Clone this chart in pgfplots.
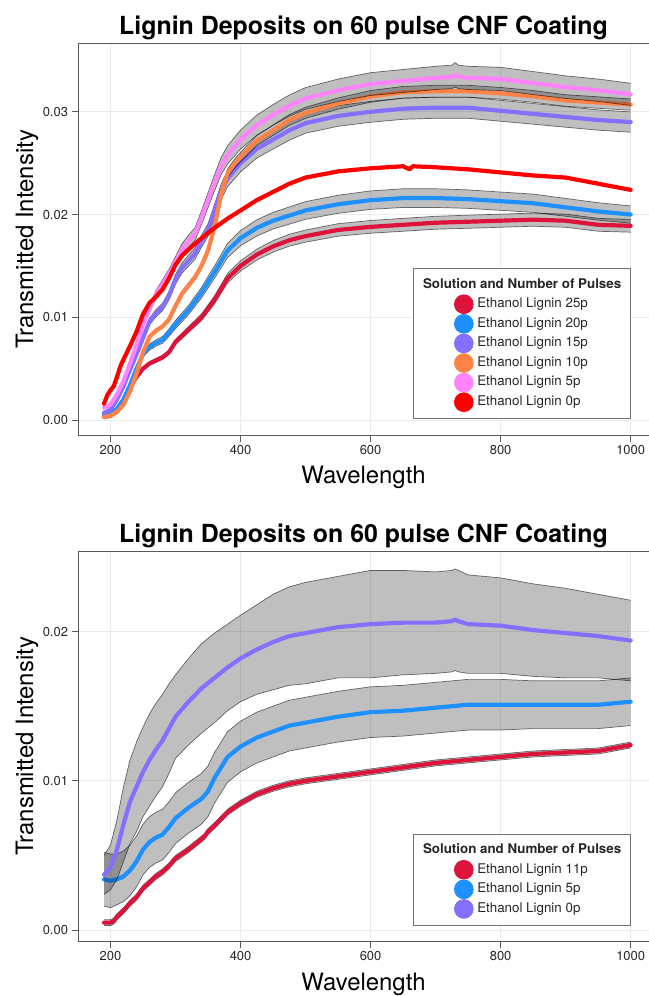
\documentclass[border=0pt]{standalone}
\usepackage{pgfplots}
\pgfplotsset{compat=1.18}
\usepackage{pgfplotstable}
\usepgfplotslibrary{fillbetween}
\usepackage{fontspec}
\setmainfont{TeX Gyre Heros}

\definecolor{crim}{HTML}{DC143C}
\definecolor{dblue}{HTML}{1E90FF}
\definecolor{lslate}{HTML}{8470FF}
\definecolor{coralc}{HTML}{FF8247}
\definecolor{pinkv}{HTML}{FF83FA}
\definecolor{redd}{HTML}{FF0000}
\definecolor{gridc}{HTML}{EBEBEB}

% top panel: x = wavelength, y = mean, e = std
\pgfplotstableread{
x y e
190 .0003 .00001
200 .0004 .00001
210 .0009 .00003
220 .0020 .00007
230 .0032 .00011
240 .0042 .00014
250 .0050 .00017
260 .0055 .00018
270 .0058 .00019
280 .0061 .00020
290 .0066 .00022
300 .0076 .00025
320 .0088 .00029
340 .0100 .00033
360 .0117 .00039
380 .0138 .00046
400 .0150 .00050
425 .0161 .00053
450 .0169 .00056
475 .0175 .00058
500 .0179 .00059
550 .0185 .00061
600 .0188 .00062
650 .0190 .00063
700 .0192 .00063
750 .0193 .00064
800 .0194 .00064
850 .0195 .00064
900 .0194 .00064
950 .0190 .00063
1000 .0189 .00062
}\tA
\pgfplotstableread{
x y e
190 .0005 .00002
200 .0006 .00003
210 .0011 .00005
220 .0020 .00008
230 .0034 .00014
240 .0050 .00021
250 .0064 .00027
260 .0071 .00030
270 .0075 .00032
280 .0078 .00033
290 .0085 .00036
300 .0093 .00039
320 .0107 .00045
340 .0124 .00052
360 .0144 .00060
380 .0165 .00069
400 .0177 .00074
425 .0187 .00079
450 .0194 .00081
475 .0199 .00084
500 .0204 .00086
550 .0210 .00088
600 .0214 .00090
650 .0216 .00091
700 .0216 .00091
750 .0215 .00090
800 .0213 .00089
850 .0211 .00089
900 .0207 .00087
950 .0203 .00085
1000 .0200 .00084
}\tB
\pgfplotstableread{
x y e
190 .0007 .00002
200 .0010 .00003
210 .0020 .00007
220 .0033 .00011
230 .0049 .00017
240 .0064 .00022
250 .0080 .00027
260 .0096 .00033
270 .0104 .00035
280 .0110 .00037
290 .0121 .00041
300 .0137 .00047
310 .0148 .00050
320 .0155 .00053
330 .0162 .00055
340 .0174 .00059
350 .0185 .00063
360 .0203 .00069
370 .0222 .00075
380 .0235 .00080
400 .0250 .00085
425 .0264 .00090
450 .0273 .00093
475 .0282 .00096
500 .0289 .00098
550 .0296 .00101
600 .0300 .00102
650 .0303 .00103
700 .0304 .00103
750 .0304 .00103
800 .0301 .00102
850 .0298 .00101
900 .0295 .00100
950 .0292 .00099
1000 .0290 .00099
}\tC
\pgfplotstableread{
x y e
190 .0003 .00001
200 .0004 .00001
210 .0008 .00001
220 .0015 .00003
230 .0028 .00005
240 .0045 .00008
250 .0066 .00012
260 .0081 .00015
270 .0087 .00016
280 .0091 .00016
290 .0098 .00018
300 .0111 .00020
310 .0123 .00022
320 .0131 .00024
330 .0139 .00025
340 .0150 .00027
350 .0165 .00030
360 .0188 .00034
370 .0219 .00039
380 .0240 .00043
390 .0249 .00045
400 .0256 .00046
425 .0272 .00049
450 .0282 .00051
475 .0292 .00053
500 .0299 .00054
550 .0308 .00055
600 .0315 .00057
650 .0319 .00057
700 .0320 .00058
750 .0320 .00058
800 .0318 .00057
850 .0315 .00057
900 .0311 .00056
950 .0309 .00056
1000 .0307 .00055
}\tD
\pgfplotstableread{
x y e
190 .0012 .00004
200 .0015 .00005
210 .0025 .00009
220 .0038 .00013
230 .0055 .00019
240 .0073 .00025
250 .0093 .00032
260 .0108 .00037
270 .0122 .00041
280 .0132 .00045
290 .0142 .00048
300 .0154 .00052
310 .0166 .00056
320 .0174 .00059
330 .0181 .00062
340 .0197 .00067
350 .0214 .00073
360 .0231 .00079
370 .0247 .00084
380 .0258 .00088
400 .0273 .00093
425 .0287 .00098
450 .0297 .00101
475 .0306 .00104
500 .0313 .00106
550 .0321 .00109
600 .0327 .00111
650 .0330 .00112
700 .0333 .00113
725 .0334 .00114
730 .0336 .00120
735 .0334 .00114
750 .0333 .00113
800 .0332 .00113
850 .0328 .00112
900 .0324 .00110
950 .0321 .00109
1000 .0317 .00108
}\tE
\pgfplotstableread{
x y
190 .0016
195 .0024
200 .0029
205 .0033
210 .0042
215 .0052
220 .0059
230 .0072
240 .0086
250 .0103
260 .0114
270 .0120
280 .0127
290 .0138
300 .0151
310 .0160
320 .0166
340 .0177
360 .0187
380 .0196
400 .0204
425 .0214
450 .0222
475 .0230
500 .0236
550 .0242
600 .0245
650 .0247
660 .0244
665 .0247
700 .0246
750 .0244
800 .0241
850 .0238
900 .0236
950 .0230
1000 .0224
}\tF

% bottom panel
\pgfplotstableread{
x y e
190 .0005 .0002
200 .0005 .0002
205 .0006 .0002
210 .0009 .0002
220 .0013 .0002
230 .0018 .0002
240 .0022 .0002
250 .0028 .0002
260 .0032 .0002
270 .0036 .0002
280 .0039 .0002
290 .0043 .0002
300 .0048 .0002
320 .0054 .0002
340 .0061 .0002
345 .0063 .0002
350 .0066 .0002
360 .0070 .0002
380 .0079 .0002
400 .0085 .0002
425 .0091 .0002
450 .0095 .0002
475 .0098 .0002
500 .0100 .0002
550 .0103 .0002
600 .0106 .0002
650 .0109 .0002
700 .0112 .0002
750 .0114 .0002
800 .0116 .0002
850 .0118 .0002
900 .0119 .0002
950 .0120 .0002
1000 .0124 .0002
}\bA
\pgfplotstableread{
x y e
190 .0034 .0018
200 .0033 .0018
210 .0034 .0017
220 .0036 .0017
230 .0040 .0017
240 .0046 .0017
250 .0054 .0017
260 .0059 .0017
270 .0062 .0017
280 .0064 .0017
290 .0069 .0017
300 .0075 .0017
320 .0082 .0017
340 .0088 .0017
350 .0093 .0017
360 .0102 .0017
380 .0116 .0017
400 .0123 .0017
425 .0129 .0017
450 .0133 .0017
475 .0137 .0017
500 .0139 .0017
550 .0143 .0017
600 .0146 .0017
650 .0147 .0017
700 .0149 .0017
750 .0151 .0017
800 .0151 .0017
850 .0151 .0016
900 .0151 .0016
950 .0151 .0016
1000 .0153 .0016
}\bB
\pgfplotstableread{
x y e
190 .0037 .0013
200 .0042 .0015
210 .0054 .0020
220 .0071 .0025
230 .0086 .0028
240 .0096 .0030
250 .0106 .0030
260 .0114 .0031
270 .0121 .0031
280 .0127 .0031
290 .0135 .0030
300 .0143 .0028
320 .0153 .0029
340 .0162 .0030
360 .0169 .0030
380 .0176 .0029
400 .0182 .0029
425 .0188 .0030
450 .0193 .0032
475 .0197 .0033
500 .0199 .0034
550 .0203 .0034
600 .0205 .0036
650 .0206 .0035
700 .0206 .0034
725 .0207 .0034
730 .0208 .0034
735 .0207 .0034
750 .0205 .0033
800 .0204 .0032
850 .0201 .0031
900 .0199 .0030
950 .0197 .0028
1000 .0194 .0027
}\bC

\tikzset{fill between/on layer=main}
\pgfplotsset{
  edge/.style={forget plot, draw=black, draw opacity=0.55, line width=0.7bp},
  band/.style={forget plot, fill=black, fill opacity=0.25, draw=none},
  curve/.style={forget plot, line width=4.2bp, line join=round, line cap=round},
  legcirc/.style={legend image code/.code={%
      \path (-41bp,0) (9.3bp,0);
      \fill[#1] (0,0) circle[radius=9.3bp];}},
  panel/.style={
    scale only axis, width=571bp,
    xmin=150, xmax=1028.2,
    xtick={200,400,600,800,1000},
    axis line style={draw=none},
    tick align=outside, tick pos=left,
    major tick length=6.5bp,
    every tick/.style={black!65, line width=0.9bp},
    grid=major, major grid style={gridc, line width=0.9bp},
    ticklabel style={font=\fontsize{13}{15}\selectfont, text=black!85},
    /pgf/number format/assume math mode=true,
    scaled y ticks=false,
    xticklabel style={/pgf/number format/set thousands separator={}},
    yticklabel style={/pgf/number format/.cd, fixed, fixed zerofill, precision=2},
    every axis title/.style={at={(0.5,1)}, anchor=base, yshift=9bp,
      font=\bfseries\fontsize{25}{30}\selectfont},
    every axis x label/.style={at={(axis description cs:0.5,0)}, anchor=base,
      yshift=-48.5bp, font=\fontsize{24}{28}\selectfont},
    every axis y label/.style={at={(axis description cs:-0.0788,0.5)}, rotate=90,
      anchor=base, font=\fontsize{24}{28}\selectfont},
    title={Lignin Deposits on 60 pulse CNF Coating},
    xlabel={Wavelength},
    ylabel={Transmitted Intensity},
    legend cell align=left,
    legend style={at={(0.968,0.041)}, anchor=south east,
      draw=black!55, line width=1bp, fill=white,
      font=\fontsize{13.4}{16}\selectfont, text=black!85,
      inner xsep=9bp, inner ysep=6.45bp, row sep=0bp, column sep=3.7bp,
      nodes={inner sep=0bp, text height=13bp, text depth=6.3bp}},
  },
}

\newcommand{\bandline}[3]{%
  \addplot[edge, name path=u#3] table[x=x, y expr=\thisrow{y}+\thisrow{e}] {#1};
  \addplot[edge, name path=l#3] table[x=x, y expr=\thisrow{y}-\thisrow{e}] {#1};
  \addplot[band] fill between[of=u#3 and l#3];
  \addplot[curve, #2] table[x=x, y=y] {#1};
}

\begin{document}
\begin{tikzpicture}
\begin{axis}[panel, name=top, at={(78bp,-435bp)}, anchor=south west,
  height=391bp, ymin=-0.00146, ymax=0.0366, ytick={0,0.01,0.02,0.03}]
  \bandline{\tA}{crim}{a}
  \bandline{\tB}{dblue}{b}
  \bandline{\tC}{lslate}{c}
  \bandline{\tD}{coralc}{d}
  \bandline{\tE}{pinkv}{e}
  \addplot[curve, redd] table[x=x, y=y] {\tF};
  \addlegendimage{empty legend}
  \addlegendentry{\hspace*{-54.3bp}\textbf{Solution and Number of Pulses}}
  \addlegendimage{legcirc=crim}   \addlegendentry{Ethanol Lignin 25p}
  \addlegendimage{legcirc=dblue}  \addlegendentry{Ethanol Lignin 20p}
  \addlegendimage{legcirc=lslate} \addlegendentry{Ethanol Lignin 15p}
  \addlegendimage{legcirc=coralc} \addlegendentry{Ethanol Lignin 10p}
  \addlegendimage{legcirc=pinkv}  \addlegendentry{Ethanol Lignin 5p}
  \addlegendimage{legcirc=redd}   \addlegendentry{Ethanol Lignin 0p}
\end{axis}
\draw[black!65, line width=1bp] (top.south east) -- (top.south west)
  -- (top.north west) -- (top.north east);

\begin{axis}[panel, name=bot, at={(78bp,-941.7bp)}, anchor=south west,
  height=390.7bp, ymin=-0.00078, ymax=0.0254, ytick={0,0.01,0.02}]
  \bandline{\bA}{crim}{a}
  \bandline{\bB}{dblue}{b}
  \bandline{\bC}{lslate}{c}
  \addlegendimage{empty legend}
  \addlegendentry{\hspace*{-54.3bp}\textbf{Solution and Number of Pulses}}
  \addlegendimage{legcirc=crim}   \addlegendentry{Ethanol Lignin 11p}
  \addlegendimage{legcirc=dblue}  \addlegendentry{Ethanol Lignin 5p}
  \addlegendimage{legcirc=lslate} \addlegendentry{Ethanol Lignin 0p}
\end{axis}
\draw[black!65, line width=1bp] (bot.south east) -- (bot.south west)
  -- (bot.north west) -- (bot.north east);

\pgfresetboundingbox
\path[use as bounding box] (0,0) rectangle (649bp,-996bp);
\end{tikzpicture}
\end{document}
